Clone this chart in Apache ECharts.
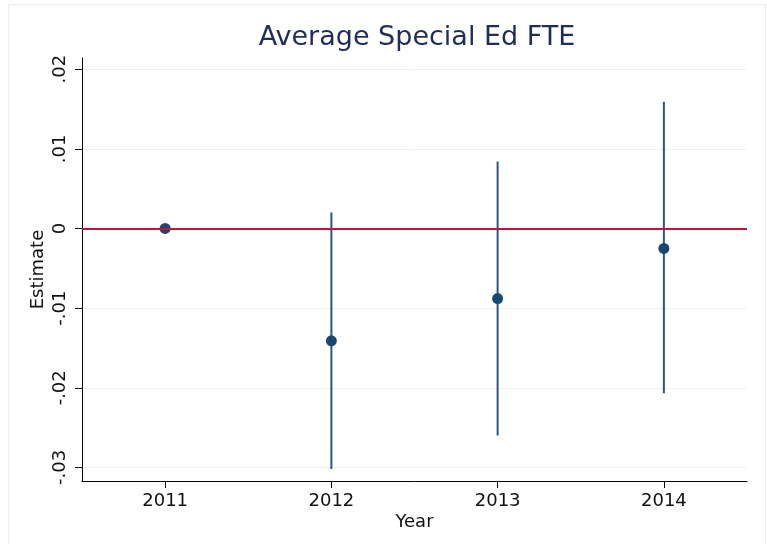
<!DOCTYPE html>
<html>
<head>
<meta charset="utf-8">
<script src="https://cdn.jsdelivr.net/npm/echarts@6/dist/echarts.min.js"></script>
<style>
html,body{margin:0;padding:0;background:#fff;}
#chart{width:767px;height:544px;}
</style>
</head>
<body>
<div id="chart"></div>
<script>
var years = ['2011', '2012', '2013', '2014'];
var estimates = [0, -0.0141, -0.0088, -0.0025];
var ciLower = [0, -0.0302, -0.0260, -0.0207];
var ciUpper = [0, 0.0020, 0.0084, 0.0159];
var yTicks = [-0.03, -0.02, -0.01, 0, 0.01, 0.02];
var yTickLabels = ['-.03', '-.02', '-.01', '0', '.01', '.02'];

var FONT = 'DejaVu Sans';
var chart = echarts.init(document.getElementById('chart'), null, {renderer: 'canvas'});

var ciData = years.map(function (y, i) { return [i, ciLower[i], ciUpper[i]]; });
var ptData = years.map(function (y, i) { return [i, estimates[i]]; });

chart.setOption({
  backgroundColor: '#ffffff',
  animation: false,
  title: {
    text: 'Average Special Ed FTE',
    left: 412, top: 19,
    textAlign: 'center',
    textStyle: {fontFamily: FONT, fontSize: 27, fontWeight: 'normal', color: '#1f2d5a'}
  },
  graphic: [{
    type: 'rect', silent: true, z: -10,
    shape: {x: 8.5, y: 4.5, width: 757, height: 560},
    style: {fill: 'none', stroke: '#e4edf0', lineWidth: 1}
  }],
  grid: {left: 82, right: 20, top: 58, bottom: 63, containLabel: false},
  xAxis: {
    type: 'category',
    data: years,
    boundaryGap: true,
    name: 'Year',
    nameLocation: 'middle',
    nameGap: 32,
    nameMoveOverlap: false,
    nameTextStyle: {fontFamily: FONT, fontSize: 18, color: '#111'},
    axisLine: {show: true, onZero: false, lineStyle: {color: '#000', width: 1}},
    axisTick: {show: true, alignWithLabel: true, length: 7, lineStyle: {color: '#000'}},
    axisLabel: {fontFamily: FONT, fontSize: 18, color: '#111', margin: 11},
    splitLine: {show: false}
  },
  yAxis: {
    type: 'value',
    min: -0.0317,
    max: 0.0214,
    name: 'Estimate',
    nameLocation: 'middle',
    nameGap: 35,
    nameMoveOverlap: false,
    nameTextStyle: {fontFamily: FONT, fontSize: 18, color: '#111'},
    axisLine: {show: true, onZero: false, lineStyle: {color: '#000', width: 1}},
    axisTick: {show: true, length: 7, lineStyle: {color: '#000'}, customValues: yTicks},
    axisLabel: {
      fontFamily: FONT, fontSize: 18, color: '#111', rotate: 90, margin: 13,
      customValues: yTicks,
      formatter: function (v) {
        var k = yTicks.findIndex(function (t) { return Math.abs(t - v) < 1e-9; });
        return k >= 0 ? yTickLabels[k] : '';
      }
    },
    splitLine: {show: true, lineStyle: {color: '#eaf2f3', width: 1}}
  },
  series: [
    {
      type: 'custom',
      z: 3,
      renderItem: function (params, api) {
        var x = api.value(0);
        var lo = api.coord([x, api.value(1)]);
        var hi = api.coord([x, api.value(2)]);
        return {
          type: 'line',
          shape: {x1: lo[0], y1: lo[1], x2: hi[0], y2: hi[1]},
          style: {stroke: '#2a5782', lineWidth: 2}
        };
      },
      encode: {x: 0, y: [1, 2]},
      data: ciData
    },
    {
      type: 'line',
      z: 2,
      data: ptData,
      showSymbol: false,
      lineStyle: {opacity: 0},
      markLine: {
        silent: true,
        symbol: ['none', 'none'],
        label: {show: false},
        lineStyle: {color: '#c8103a', width: 2, type: 'solid'},
        data: [{yAxis: 0}]
      }
    },
    {
      type: 'scatter',
      z: 4,
      symbol: 'circle',
      symbolSize: 11,
      itemStyle: {color: '#1a476f', opacity: 1},
      data: ptData
    }
  ]
});
</script>
</body>
</html>
